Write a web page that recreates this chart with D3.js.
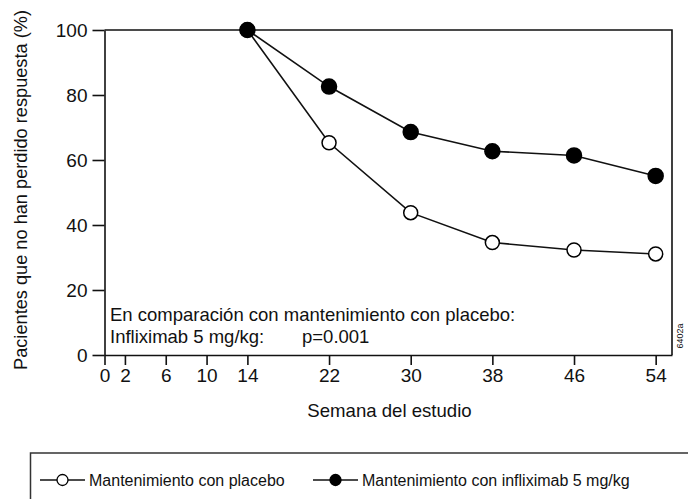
<!DOCTYPE html>
<html>
<head>
<meta charset="utf-8">
<script src="https://cdn.jsdelivr.net/npm/d3@7"></script>
<style>
  html, body { margin: 0; padding: 0; background: #fff; }
  svg { display: block; }
  text { font-family: "Liberation Sans", Arial, Helvetica, sans-serif; fill: #111; }
</style>
</head>
<body>
<svg id="chart" width="688" height="499"></svg>
<script>
// Study weeks at which response was assessed
const weeks = [14, 22, 30, 38, 46, 54];
// Percent of patients who have not lost response
const placebo = [100, 65.3, 43.8, 34.6, 32.3, 31.1];
const infliximab = [100, 82.6, 68.6, 62.7, 61.4, 55.1];
// Axis ticks
const xTicks = [0, 2, 6, 10, 14, 22, 30, 38, 46, 54];
const yTicks = [0, 20, 40, 60, 80, 100];

const seriesNames = ["Mantenimiento con placebo", "Mantenimiento con infliximab 5 mg/kg"];

const svg = d3.select("#chart");

const xMax = 55.6;
const x = d3.scaleLinear().domain([0, xMax]).range([104.5, 672]);
const y = d3.scaleLinear().domain([0, 100]).range([355, 30]);

// frame: top and right edges
svg.append("path")
  .attr("d", `M${x(0)},${y(100)}H${x(xMax)}V${y(0)}`)
  .attr("fill", "none").attr("stroke", "#111").attr("stroke-width", 1.6);

const yAxis = svg.append("g")
  .attr("transform", `translate(${x(0)},0)`)
  .call(d3.axisLeft(y).tickValues(yTicks).tickSize(12).tickSizeOuter(0).tickPadding(5));
const xAxis = svg.append("g")
  .attr("transform", `translate(0,${y(0)})`)
  .call(d3.axisBottom(x).tickValues(xTicks).tickSize(10).tickSizeOuter(0).tickPadding(4));

[yAxis, xAxis].forEach(g => {
  g.select(".domain").attr("stroke", "#111").attr("stroke-width", 1.6);
  g.selectAll(".tick line").attr("stroke", "#111").attr("stroke-width", 1.6);
  g.selectAll(".tick text").attr("font-size", 19).attr("fill", "#111")
    .style("font-family", '"Liberation Sans", Arial, sans-serif');
});

// axis titles
svg.append("text")
  .attr("transform", "translate(27,190) rotate(-90)")
  .attr("text-anchor", "middle")
  .attr("font-size", 18.2)
  .text("Pacientes que no han perdido respuesta (%)");

svg.append("text")
  .attr("x", 389.5).attr("y", 416.5)
  .attr("text-anchor", "middle")
  .attr("font-size", 18.6)
  .text("Semana del estudio");

// comparison note
svg.append("text").attr("x", 110).attr("y", 320.5).attr("font-size", 18.5)
  .text("En comparación con mantenimiento con placebo:");
svg.append("text").attr("x", 110).attr("y", 342.5).attr("font-size", 18.5)
  .text("Infliximab 5 mg/kg:");
svg.append("text").attr("x", 302).attr("y", 342.5).attr("font-size", 18.5)
  .text("p=0.001");

// figure code
svg.append("text")
  .attr("transform", "translate(683,336) rotate(-90)")
  .attr("text-anchor", "middle")
  .attr("font-size", 9)
  .text("6402a");

const line = d3.line().x(d => x(d[0])).y(d => y(d[1]));

function drawSeries(values, filled) {
  const pts = weeks.map((w, i) => [w, values[i]]);
  svg.append("path").datum(pts)
    .attr("d", line).attr("fill", "none")
    .attr("stroke", "#111").attr("stroke-width", 1.6);
  svg.append("g").selectAll("circle").data(pts).join("circle")
    .attr("cx", d => x(d[0])).attr("cy", d => y(d[1]))
    .attr("r", filled ? 7.5 : 7)
    .attr("fill", filled ? "#000" : "#fff")
    .attr("stroke", "#000").attr("stroke-width", 1.5);
}
drawSeries(placebo, false);
drawSeries(infliximab, true);

// legend
const legend = svg.append("g");
legend.append("rect")
  .attr("x", 30.5).attr("y", 453).attr("width", 700).attr("height", 80)
  .attr("fill", "none").attr("stroke", "#333").attr("stroke-width", 1.5);

const legendItems = [
  { name: seriesNames[0], filled: false, x0: 40 },
  { name: seriesNames[1], filled: true, x0: 313 }
];
const li = legend.selectAll("g.item").data(legendItems).join("g")
  .attr("class", "item")
  .attr("transform", d => `translate(${d.x0},480)`);
li.append("line").attr("x1", 0).attr("x2", 45).attr("y1", 0).attr("y2", 0)
  .attr("stroke", "#111").attr("stroke-width", 1.5);
li.append("circle").attr("cx", 22.5).attr("cy", 0).attr("r", 5.5)
  .attr("fill", d => d.filled ? "#000" : "#fff")
  .attr("stroke", "#000").attr("stroke-width", 1.3);
li.append("text").attr("x", 49).attr("y", 6)
  .attr("font-size", 16)
  .text(d => d.name);
</script>
</body>
</html>
